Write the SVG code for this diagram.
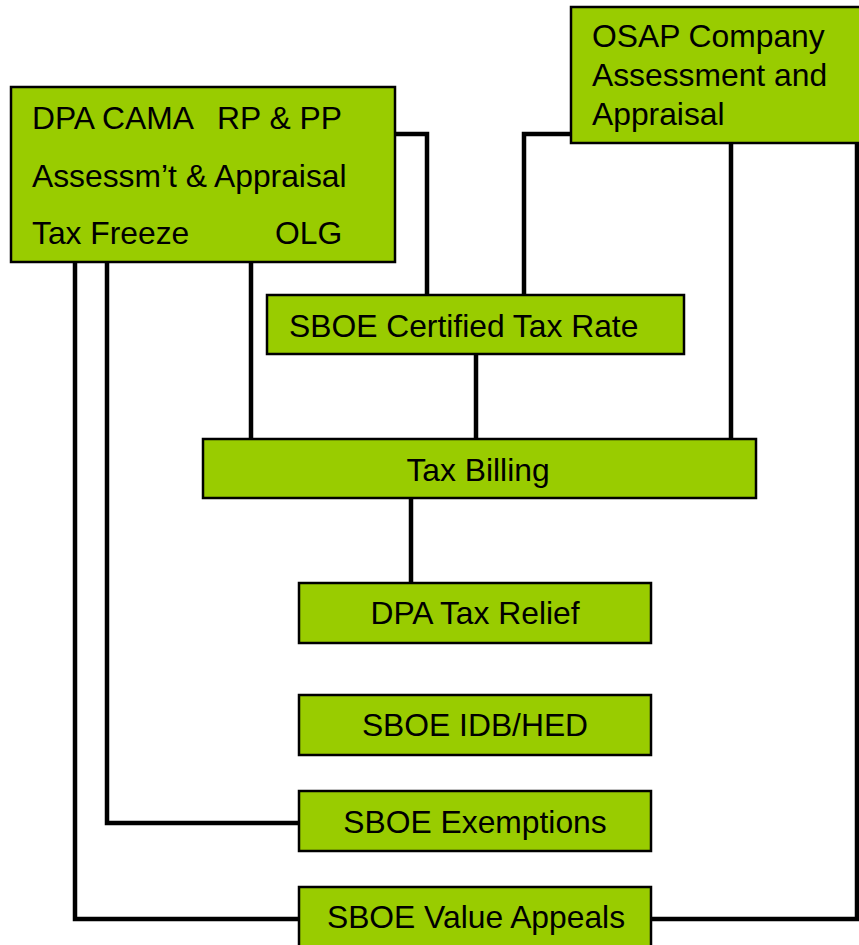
<svg xmlns="http://www.w3.org/2000/svg" width="859" height="945" viewBox="0 0 859 945">
<style>
.box{fill:#99CC00;stroke:#000;stroke-width:2.5}
.t{font-family:"Liberation Sans",Arial,sans-serif;font-size:31.8px;fill:#000}
.c{text-anchor:middle}
.ln{fill:none;stroke:#000;stroke-width:4.5;stroke-linejoin:miter;stroke-linecap:square}
</style>
<rect width="859" height="945" fill="#fff"/>
<g id="connectors">
<polyline class="ln" points="395,134 427,134 427,296"/>
<polyline class="ln" points="571,134 524,134 524,296"/>
<polyline class="ln" points="731,143 731,439"/>
<polyline class="ln" points="251,262 251,439"/>
<polyline class="ln" points="476,354 476,439"/>
<polyline class="ln" points="411,498 411,583"/>
<polyline class="ln" points="107,262 107,823 299,823"/>
<polyline class="ln" points="75,262 75,919 299,919"/>
<polyline class="ln" points="651,919 857,919 857,143"/>
</g>
<g id="dpa-cama">
<rect class="box" x="11" y="87" width="384" height="175"/>
<text class="t" x="32" y="129">DPA CAMA</text>
<text class="t" x="217" y="129">RP &amp; PP</text>
<text class="t" x="32" y="187">Assessm’t &amp; Appraisal</text>
<text class="t" x="32" y="244">Tax Freeze</text>
<text class="t" x="275" y="244">OLG</text>
</g>
<g id="osap">
<rect class="box" x="571" y="7" width="295" height="136"/>
<text class="t" x="592" y="47">OSAP Company</text>
<text class="t" x="592" y="86">Assessment and</text>
<text class="t" x="592" y="125">Appraisal</text>
</g>
<g id="sboe-certified">
<rect class="box" x="267" y="295" width="417" height="59"/>
<text class="t" x="289" y="337">SBOE Certified Tax Rate</text>
</g>
<g id="tax-billing">
<rect class="box" x="203" y="439" width="553" height="59"/>
<text class="t c" x="478" y="481">Tax Billing</text>
</g>
<g id="dpa-tax-relief">
<rect class="box" x="299" y="583" width="352" height="60"/>
<text class="t c" x="475" y="624">DPA Tax Relief</text>
</g>
<g id="sboe-idb">
<rect class="box" x="299" y="695" width="352" height="60"/>
<text class="t c" x="475" y="736">SBOE IDB/HED</text>
</g>
<g id="sboe-exemptions">
<rect class="box" x="299" y="791" width="352" height="60"/>
<text class="t c" x="475" y="833">SBOE Exemptions</text>
</g>
<g id="sboe-value-appeals">
<rect class="box" x="299" y="887" width="352" height="70"/>
<text class="t c" x="476" y="928">SBOE Value Appeals</text>
</g>
</svg>
